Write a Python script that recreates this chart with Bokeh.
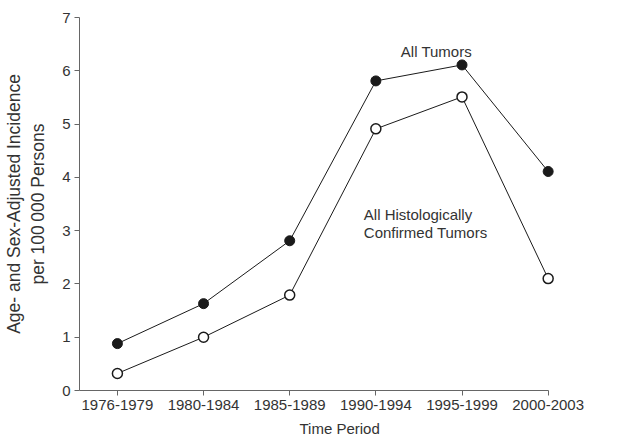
from bokeh.plotting import figure
from bokeh.models import ColumnDataSource, FixedTicker, Label, Title, Range1d
from bokeh.embed import file_html
from bokeh.resources import INLINE

periods = ["1976-1979", "1980-1984", "1985-1989", "1990-1994", "1995-1999", "2000-2003"]
all_tumors = [0.88, 1.63, 2.81, 5.81, 6.11, 4.11]
histo_confirmed = [0.32, 1.0, 1.79, 4.91, 5.51, 2.1]
y_ticks = [0, 1, 2, 3, 4, 5, 6, 7]

FONT = "Liberation Sans"
TXT = "#333333"
AX = "#666666"

xs = list(range(len(periods)))
src = ColumnDataSource(dict(x=xs, all=all_tumors, histo=histo_confirmed))

p = figure(width=619, height=438, output_backend="svg", toolbar_location=None,
           x_range=Range1d(-0.44, 5.12), y_range=Range1d(0, 7),
           frame_width=479, frame_height=373,
           min_border_left=79, min_border_right=61, min_border_top=17, min_border_bottom=10)
p.outline_line_color = None
p.grid.grid_line_color = None
p.background_fill_color = "white"

p.xaxis.ticker = FixedTicker(ticks=xs)
p.xaxis.bounds = (-0.44, 5)
p.xaxis.major_label_overrides = {i: lab for i, lab in enumerate(periods)}
p.yaxis.ticker = FixedTicker(ticks=y_ticks)
for ax in (p.xaxis, p.yaxis):
    ax.axis_line_color = AX
    ax.major_tick_line_color = AX
    ax.minor_tick_line_color = None
    ax.major_tick_in = 0
    ax.major_tick_out = 5
    ax.major_label_text_font = FONT
    ax.major_label_text_font_size = "15px"
    ax.major_label_text_color = TXT
    ax.major_label_standoff = 4
    ax.axis_label_text_font = FONT
    ax.axis_label_text_font_size = "17.5px"
    ax.axis_label_text_color = TXT
    ax.axis_label_text_font_style = "normal"

p.yaxis.axis_label = "Age- and Sex-Adjusted Incidence\nper 100\u2009000 Persons"
p.yaxis.axis_label_standoff = 11

t = Title(text="Time Period", align="left", offset=220, text_font=FONT,
          text_font_size="15px", text_color=TXT, text_font_style="normal", standoff=10)
p.add_layout(t, "below")

p.line("x", "all", source=src, line_color="#1a1a1a", line_width=1)
p.line("x", "histo", source=src, line_color="#1a1a1a", line_width=1)
p.scatter("x", "all", source=src, size=10, fill_color="#1a1a1a", line_color="#1a1a1a")
p.scatter("x", "histo", source=src, size=10, fill_color="white", line_color="#1a1a1a", line_width=1.5)

for txt, x, y in [("All Tumors", 3.29, 6.36),
                  ("All Histologically", 2.86, 3.31),
                  ("Confirmed Tumors", 2.86, 2.97)]:
    p.add_layout(Label(x=x, y=y, text=txt, text_font=FONT, text_font_size="15px",
                       text_color=TXT, text_baseline="middle", text_align="left"))

open("out.html", "w").write(file_html(p, INLINE))
